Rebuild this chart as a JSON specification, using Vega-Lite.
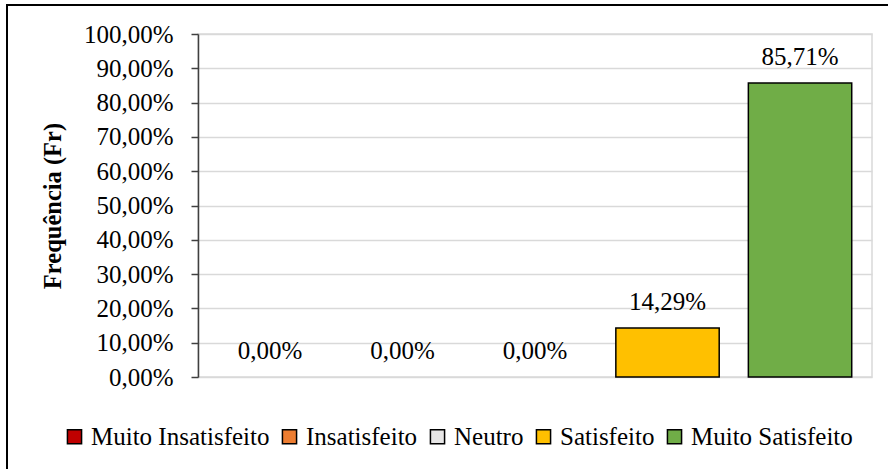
{
  "$schema": "https://vega.github.io/schema/vega-lite/v6.json",
  "width": 674,
  "height": 343,
  "autosize": {"type": "none"},
  "padding": {"left": 198, "top": 34, "right": 16, "bottom": 92},
  "background": "white",
  "config": {
    "font": "Times New Roman",
    "view": {"stroke": "#d9d9d9", "strokeWidth": 1.5}
  },
  "data": {
    "values": [
      {"categoria": "Muito Insatisfeito", "valor": 0.0, "rotulo": "0,00%"},
      {"categoria": "Insatisfeito", "valor": 0.0, "rotulo": "0,00%"},
      {"categoria": "Neutro", "valor": 0.0, "rotulo": "0,00%"},
      {"categoria": "Satisfeito", "valor": 14.29, "rotulo": "14,29%"},
      {"categoria": "Muito Satisfeito", "valor": 85.71, "rotulo": "85,71%"}
    ]
  },
  "layer": [
    {
      "mark": {"type": "rule", "stroke": "black", "strokeWidth": 2, "clip": false},
      "encoding": {
        "x": {"value": -191},
        "y": {"value": -29},
        "y2": {"value": 600}
      }
    },
    {
      "mark": {"type": "rule", "stroke": "black", "strokeWidth": 2, "clip": false},
      "encoding": {
        "x": {"value": -192},
        "x2": {"value": 900},
        "y": {"value": -29}
      }
    },
    {
      "mark": {"type": "bar", "stroke": "black", "strokeWidth": 1.5},
      "encoding": {
        "x": {
          "field": "categoria",
          "type": "nominal",
          "sort": null,
          "scale": {"paddingInner": 0.22, "paddingOuter": 0.153},
          "axis": null
        },
        "y": {
          "field": "valor",
          "type": "quantitative",
          "scale": {"domain": [0, 100]},
          "axis": {
            "values": [0, 10, 20, 30, 40, 50, 60, 70, 80, 90, 100],
            "tickCount": 11,
            "labelOverlap": false,
            "labelExpr": "replace(format(datum.value, '.2f'), '.', ',') + '%'",
            "title": "Frequência (Fr)",
            "titleFont": "Times New Roman",
            "titleFontSize": 24.5,
            "titleFontWeight": "bold",
            "titleColor": "black",
            "titlePadding": 18,
            "labelFont": "Times New Roman",
            "labelFontSize": 25,
            "labelColor": "black",
            "labelPadding": 18,
            "tickSize": 7,
            "tickColor": "#404040",
            "tickWidth": 1.5,
            "domainColor": "#404040",
            "domainWidth": 1.5,
            "gridColor": "#d9d9d9",
            "gridWidth": 1.5
          }
        },
        "strokeOpacity": {
          "condition": {"test": "datum.valor == 0", "value": 0},
          "value": 1
        },
        "fill": {
          "field": "categoria",
          "type": "nominal",
          "sort": null,
          "scale": {
            "domain": ["Muito Insatisfeito", "Insatisfeito", "Neutro", "Satisfeito", "Muito Satisfeito"],
            "range": ["#C00000", "#ED7D31", "#E7E6E6", "#FFC000", "#70AD47"]
          },
          "legend": {
            "title": null,
            "orient": "none",
            "direction": "horizontal",
            "legendX": -136,
            "legendY": 390,
            "symbolType": "square",
            "symbolSize": 200,
            "symbolStrokeColor": "black",
            "symbolStrokeWidth": 1.5,
            "labelFont": "Times New Roman",
            "labelFontSize": 25,
            "labelColor": "black",
            "labelOffset": 4,
            "columnPadding": 7,
            "labelLimit": 400
          }
        }
      }
    },
    {
      "mark": {"type": "text", "dy": -26, "font": "Times New Roman", "fontSize": 25, "color": "black"},
      "encoding": {
        "x": {"field": "categoria", "type": "nominal", "sort": null},
        "y": {"field": "valor", "type": "quantitative"},
        "text": {"field": "rotulo"}
      }
    }
  ]
}
